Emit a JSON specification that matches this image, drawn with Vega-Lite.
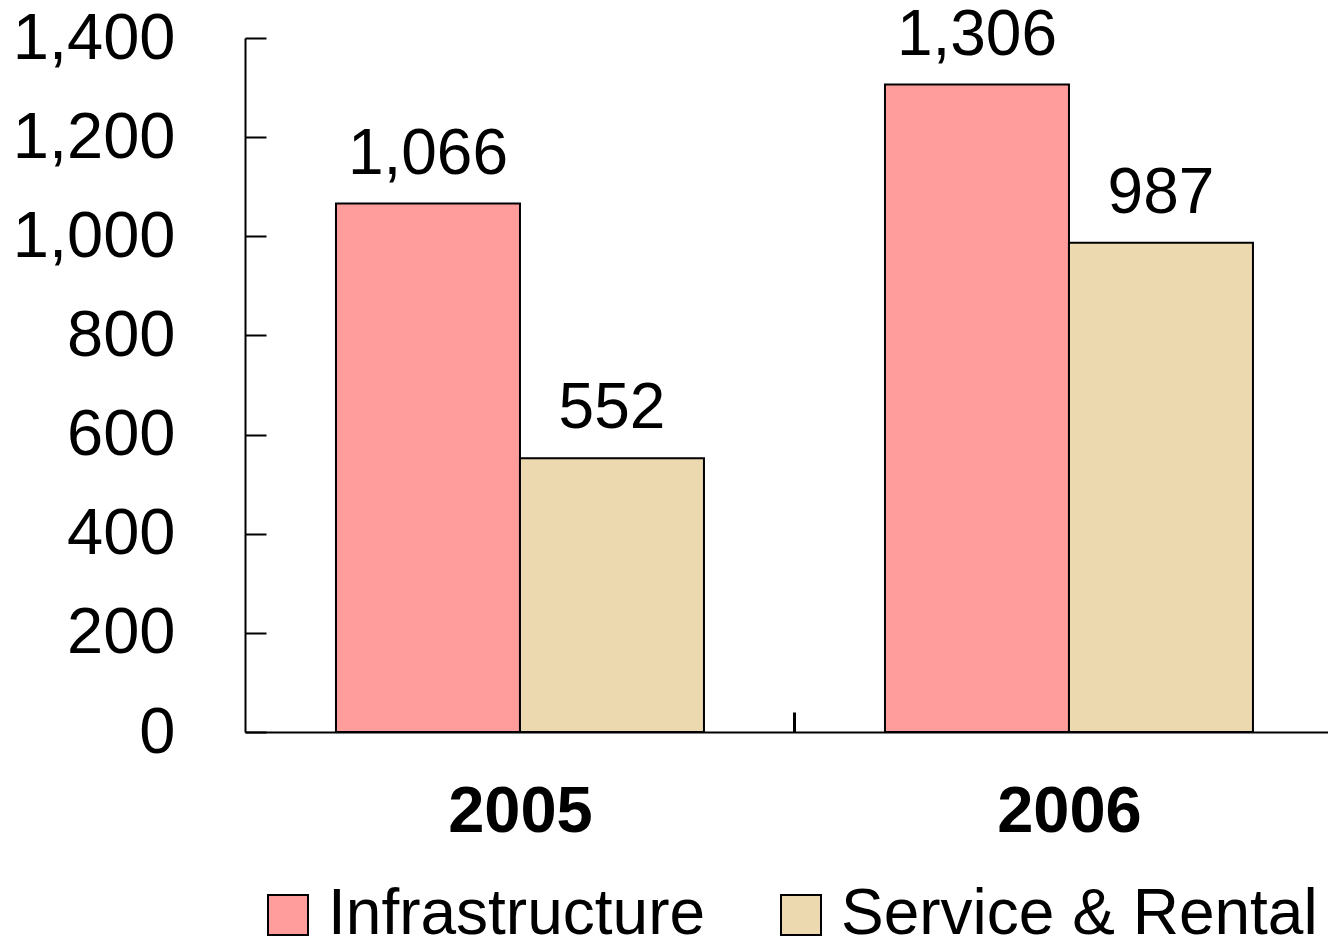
{
  "$schema": "https://vega.github.io/schema/vega-lite/v6.json",
  "autosize": "none",
  "width": 1083,
  "height": 694,
  "padding": {"left": 245, "top": 38, "right": 0, "bottom": 209},
  "background": "white",
  "config": {"view": {"stroke": null}, "font": "Liberation Sans"},
  "data": {"values": [
    {"year": "2005", "series": "Infrastructure", "value": 1066, "label": "1,066"},
    {"year": "2005", "series": "Service & Rental", "value": 552, "label": "552"},
    {"year": "2006", "series": "Infrastructure", "value": 1306, "label": "1,306"},
    {"year": "2006", "series": "Service & Rental", "value": 987, "label": "987"}
  ]},
  "encoding": {
    "x": {"field": "year", "type": "nominal",
      "scale": {"paddingInner": 0.3297, "paddingOuter": 0.1512, "align": 0.548},
      "axis": {"title": null, "labelAngle": 0, "labelFontSize": 65, "labelFontWeight": "bold", "labelColor": "black",
        "domainColor": "black", "domainWidth": 2, "tickColor": "black", "tickWidth": 3, "tickSize": -20, "tickOffset": 274.5, "labelOffset": -274.5, "labelPadding": 68}},
    "xOffset": {"field": "series", "type": "nominal", "scale": {"paddingInner": 0, "paddingOuter": 0}},
    "y": {"field": "value", "type": "quantitative",
      "scale": {"domain": [0, 1400], "nice": false},
      "axis": {"title": null, "values": [0, 200, 400, 600, 800, 1000, 1200, 1400], "format": ",d", "grid": false,
        "labelFontSize": 65, "labelColor": "black", "domainColor": "black", "domainWidth": 2,
        "tickColor": "black", "tickWidth": 2, "tickSize": -21, "labelPadding": 91}}
  },
  "layer": [
    {"mark": {"type": "bar", "stroke": "black", "strokeWidth": 2},
     "encoding": {"color": {"field": "series", "type": "nominal",
        "scale": {"domain": ["Infrastructure", "Service & Rental"], "range": ["#FF9C9C", "#EDD9B0"]},
        "legend": {"title": null, "orient": "none", "legendX": 11, "legendY": 845, "direction": "horizontal",
          "symbolType": "square", "symbolSize": 1600, "symbolStrokeColor": "black", "symbolStrokeWidth": 2, "symbolOpacity": 1,
          "labelFontSize": 64, "labelColor": "black", "labelOffset": 8, "columnPadding": 63, "labelLimit": 1000}}}},
    {"mark": {"type": "text", "fontSize": 64, "dy": -30, "baseline": "alphabetic", "color": "black"},
     "encoding": {"text": {"field": "label"}}}
  ]
}
